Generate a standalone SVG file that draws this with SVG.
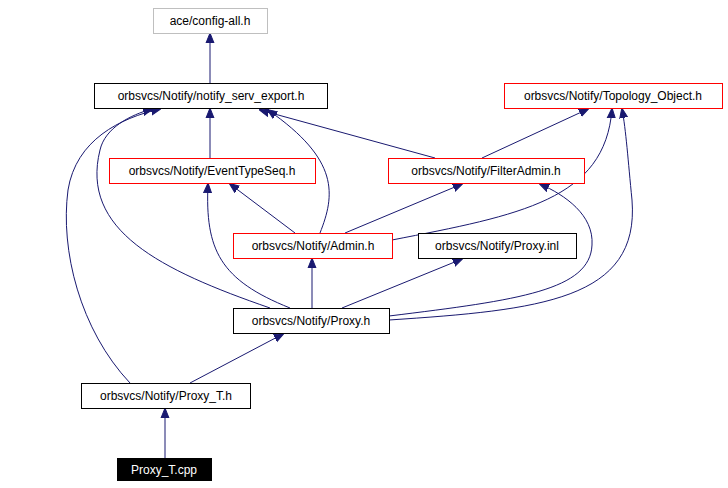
<svg xmlns="http://www.w3.org/2000/svg" width="728" height="488" viewBox="0 0 728 488">
<style>
text{font-family:"Liberation Sans",Arial,sans-serif;font-size:12px;text-anchor:middle;fill:#000}
.n{fill:#fff;stroke:#000;stroke-width:1}
.r{fill:#fff;stroke:#f00;stroke-width:1}
.g{fill:#fff;stroke:#bfbfbf;stroke-width:1}
.e{fill:none;stroke:#191970;stroke-width:1;marker-end:url(#a)}
</style>
<defs><marker id="a" viewBox="0 0 10 10" refX="9" refY="5" markerWidth="10" markerHeight="10" markerUnits="userSpaceOnUse" orient="auto"><path d="M0,1 L10,5 L0,9 Z" fill="#191970" stroke="#191970"/></marker></defs>
<rect width="728" height="488" fill="#fff"/>
<g id="edges">
<path class="e" d="M210,83 L210,34"/>
<path class="e" d="M210,158 L210,109"/>
<path class="e" d="M435,158 L260,110"/>
<path class="e" d="M482,158 L588,109"/>
<path class="e" d="M320,233 C335,195 340,160 268,110"/>
<path class="e" d="M295,233 L230,184"/>
<path class="e" d="M345,233 L462,184"/>
<path class="e" d="M392,240 C520,215 605,200 612,109"/>
<path class="e" d="M312,308 L312,259"/>
<path class="e" d="M342,308 L462,259"/>
<path class="e" d="M290,308 C220,280 205,250 208,184"/>
<path class="e" d="M270,308 C160,270 80,230 100,150 C105,128 130,115 152,109"/>
<path class="e" d="M389,316 C520,300 590,290 592,245 C594,215 565,195 540,184"/>
<path class="e" d="M389,320 C540,310 640,300 632,200 C628,160 626,130 622,109"/>
<path class="e" d="M190,383 L283,334"/>
<path class="e" d="M130,383 C80,330 60,250 68,190 C76,140 120,118 160,109"/>
<path class="e" d="M165,458 L165,409"/>
</g>
<g id="config"><rect class="g" x="153.5" y="8.5" width="114" height="25"/><text x="210" y="25">ace/config-all.h</text></g>
<g id="export"><rect class="n" x="94.5" y="83.5" width="233" height="25"/><text x="211" y="100">orbsvcs/Notify/notify_serv_export.h</text></g>
<g id="topology"><rect class="r" x="504.5" y="83.5" width="218" height="25"/><text x="613" y="100">orbsvcs/Notify/Topology_Object.h</text></g>
<g id="eventtypeseq"><rect class="r" x="109.5" y="158.5" width="206" height="25"/><text x="212" y="175">orbsvcs/Notify/EventTypeSeq.h</text></g>
<g id="filteradmin"><rect class="r" x="388.5" y="158.5" width="196" height="25"/><text x="486" y="175">orbsvcs/Notify/FilterAdmin.h</text></g>
<g id="admin"><rect class="r" x="233.5" y="233.5" width="159" height="25"/><text x="313" y="250">orbsvcs/Notify/Admin.h</text></g>
<g id="proxyinl"><rect class="n" x="418.5" y="233.5" width="158" height="25"/><text x="497" y="250">orbsvcs/Notify/Proxy.inl</text></g>
<g id="proxyh"><rect class="n" x="233.5" y="308.5" width="156" height="25"/><text x="311" y="325">orbsvcs/Notify/Proxy.h</text></g>
<g id="proxyth"><rect class="n" x="81.5" y="383.5" width="169" height="25"/><text x="166" y="400">orbsvcs/Notify/Proxy_T.h</text></g>
<g id="proxytcpp"><rect x="117.5" y="458.5" width="94" height="22" fill="#000" stroke="#000"/><text x="164" y="474" style="fill:#fff">Proxy_T.cpp</text></g>
</svg>
